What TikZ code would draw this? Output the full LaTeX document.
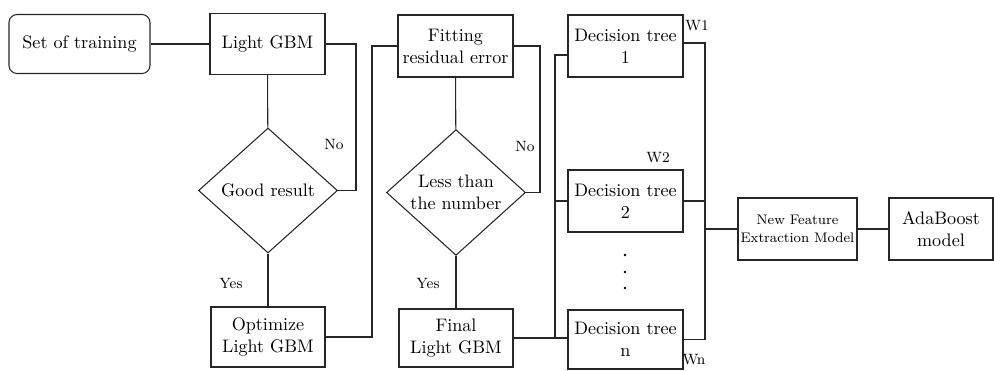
\documentclass[tikz,border=0pt]{standalone}
\usepackage{tikz}
\usetikzlibrary{shapes.geometric}
\tikzset{
box/.style={draw,align=center,inner sep=1pt,minimum width=2.3cm,minimum height=1.22cm,font=\fontsize{10.3}{12.5}\selectfont},
decide/.style={diamond,draw,align=center,inner sep=0pt,minimum width=2.78cm,minimum height=2.5cm,font=\fontsize{10.3}{12.5}\selectfont},
lbl/.style={font=\fontsize{8.5}{10}\selectfont,inner sep=0pt}
}
\begin{document}
\begin{tikzpicture}[x=0.02cm,y=-0.02cm,line width=0.6pt,draw=black!85]
\useasboundingbox (0,0) rectangle (994,370);
\node[box,rounded corners=0.16cm,minimum width=2.82cm,minimum height=1.18cm] (set) at (79.5,44) {Set of training};
\node[box] (lgbm) at (267.5,44) {Light GBM};
\node[decide] (good) at (268,190.5) {Good result};
\node[box,minimum width=2.28cm,minimum height=1.2cm] (opt) at (268,337) {Optimize\\Light GBM};
\node[box,minimum height=1.24cm] (fit) at (455.5,46) {Fitting\\residual error};
\node[decide] (less) at (456,192.5) {Less than\\the number};
\node[box,minimum width=2.28cm,minimum height=1.16cm] (fin) at (456,338) {Final\\Light GBM};
\node[box,minimum height=1.24cm] (dt1) at (625.5,46) {Decision tree\\1};
\node[box,minimum height=1.24cm] (dt2) at (625.5,201) {Decision tree\\2};
\node[box,minimum height=1.18cm] (dtn) at (625.5,339.5) {Decision tree\\n};
\node[box,minimum width=2.38cm,minimum height=1.24cm,font=\fontsize{7.9}{10.5}\selectfont] (nfe) at (797.5,229) {New Feature\\Extraction Model};
\node[box,minimum width=2.08cm,minimum height=1.24cm] (ada) at (941,229) {AdaBoost\\model};
\coordinate (bus1) at (356,0);
\coordinate (bus2) at (372,0);
\coordinate (bus3) at (540,0);
\coordinate (tb) at (555,55);
\coordinate (wb) at (705,43);
\coordinate (out) at (705,229);
\draw (set) -- (lgbm);
\draw (lgbm) -- (good);
\draw (good) -- (opt);
\draw (lgbm.east) -- (bus1 |- lgbm.east) |- (good.east);
\draw (opt.east) -| (bus2 |- fit.west) -- (fit.west);
\draw (fit) -- (less);
\draw (less) -- (fin);
\draw (fit.east) -- (bus3 |- fit.east) |- (less.east);
\draw (fin.east) -- (fin.east -| dtn.west);
\draw (tb -| dt1.west) -- (tb) -- (tb |- fin.east);
\draw (tb |- dt2.west) -- (dt2.west);
\draw (wb -| dt1.east) -- (wb) -- (wb |- dtn.east) -- (dtn.east);
\draw (wb |- dt2.east) -- (dt2.east);
\draw (out) -- (nfe);
\draw (nfe) -- (ada);
\foreach \y in {255,272,288}{
\fill (625,\y) circle (1.3);
}
\node[lbl] (no1) at (334,144) {No};
\node[lbl] (no2) at (525,146) {No};
\node[lbl] (yes1) at (231,283) {Yes};
\node[lbl] (yes2) at (428,283) {Yes};
\node[lbl] (w1) at (697,26) {W1};
\node[lbl] (w2) at (658,158) {W2};
\node[lbl] (wn) at (694,360) {Wn};
\end{tikzpicture}
\end{document}
